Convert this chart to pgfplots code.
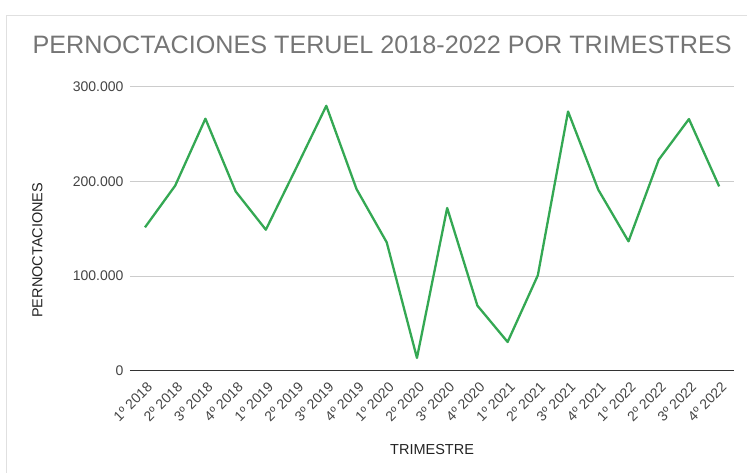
\documentclass[border=0pt]{standalone}
\usepackage{fontspec}
\setmainfont{Liberation Sans}
\usepackage{pgfplots}
\pgfplotsset{compat=1.18}
\definecolor{linegreen}{HTML}{34A853}
\definecolor{gridgray}{HTML}{CCCCCC}
\definecolor{framegray}{HTML}{E0E0E0}
\definecolor{titlegray}{HTML}{757575}
\definecolor{ticktext}{HTML}{444444}
\definecolor{labeltext}{HTML}{222222}
\definecolor{axisdark}{HTML}{333333}
\begin{document}
\begin{tikzpicture}[x=1pt,y=1pt]
\path (0,0) rectangle (748,473);
\draw[framegray, line width=1.5pt] (6.5,0) -- (6.5,457.5) -- (748,457.5);
\begin{axis}[
  at={(130pt,102pt)}, anchor=south west,
  scale only axis, width=605pt, height=284pt,
  xmin=-0.5, xmax=19.5, ymin=0, ymax=300000,
  axis line style={draw=none},
  major tick length=0pt,
  ytick={100000,200000,300000},
  extra y ticks={0},
  extra y tick style={grid style={axisdark, line width=1.3pt}},
  ymajorgrids,
  grid style={gridgray, line width=1pt},
  scaled y ticks=false,
  /pgf/number format/.cd, fixed, precision=0, 1000 sep={.}, assume math mode=true,
  /pgfplots/.cd,
  xtick={0,...,19},
  xticklabels={1º 2018,2º 2018,3º 2018,4º 2018,1º 2019,2º 2019,3º 2019,4º 2019,1º 2020,2º 2020,3º 2020,4º 2020,1º 2021,2º 2021,3º 2021,4º 2021,1º 2022,2º 2022,3º 2022,4º 2022},
  tick label style={text=ticktext, font=\fontsize{14}{14}\selectfont},
  yticklabel style={xshift=-3pt},
  xticklabel style={xshift=5pt, yshift=-14pt, rotate=45, anchor=east, inner sep=0pt},
  title={PERNOCTACIONES TERUEL 2018-2022 POR TRIMESTRES},
  title style={at={(rel axis cs:0.4174,1.0951)}, anchor=base, text=titlegray, font=\fontsize{25.2}{27}\selectfont, inner sep=0pt},
  xlabel={TRIMESTRE},
  xlabel style={at={(rel axis cs:0.5,-0.2764)}, anchor=center, text=labeltext, font=\fontsize{14.5}{15}\selectfont, inner sep=0pt},
  ylabel={PERNOCTACIONES},
  ylabel style={at={(rel axis cs:-0.1529,0.4243)}, anchor=center, rotate=0, text=labeltext, font=\fontsize{14.5}{15}\selectfont, inner sep=0pt},
  clip=false,
]
\addplot[linegreen, line width=2.3pt, line join=round, mark=none] coordinates {
  (0,151500) (1,195600) (2,266400) (3,189500) (4,149000)
  (5,214000) (6,280000) (7,192000) (8,135600) (9,13400)
  (10,172000) (11,68700) (12,30300) (13,100800) (14,274000)
  (15,191300) (16,136700) (17,223000) (18,266000) (19,194800)
};
\end{axis}
\end{tikzpicture}
\end{document}
